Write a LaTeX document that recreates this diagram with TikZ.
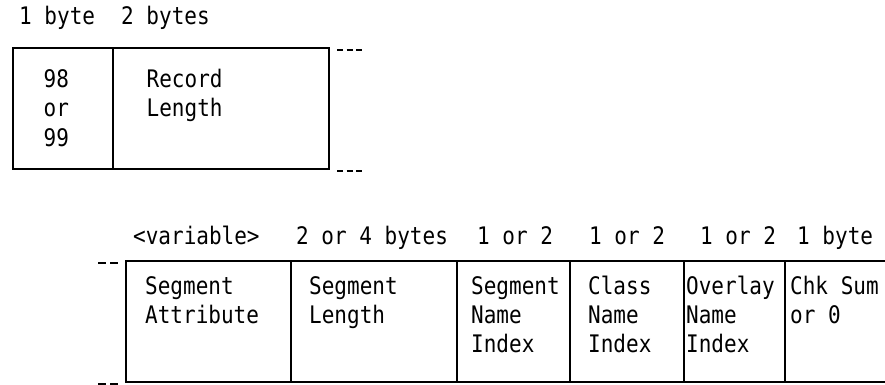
\documentclass[tikz,border=0pt]{standalone}
\usepackage{fontspec}
\usepackage{graphicx}
\setmonofont{DejaVu Sans Mono}
\newcommand{\tallt}[1]{\scalebox{1}[1.15]{#1}}
\begin{document}
\begin{tikzpicture}[x=1pt,y=-1pt,
  lbl/.style={anchor=base west, inner sep=0pt, font=\ttfamily\fontsize{21}{29}\selectfont},
  cellbox/.style={draw, line width=1.2pt, inner sep=0pt, outer sep=0pt},
  shortdash/.style={line width=1.2pt, dash pattern=on 6pt off 3.5pt},
  leftdash/.style={line width=1.2pt, dash pattern=on 8pt off 4pt}]
\useasboundingbox (0,0) rectangle (885,385);

% ---- top record ----
\node[lbl] (h1) at (19,25) {\tallt{1 byte}};
\node[lbl] (h2) at (121,25) {\tallt{2 bytes}};

\node[cellbox, minimum width=100pt, minimum height=121pt] (ta) at (63,108.5) {};
\node[cellbox, minimum width=216pt, minimum height=121pt] (tb) at (221,108.5) {};

\node[lbl] (t98) at (43.5,88) {\tallt{98}};
\node[lbl] (tor) at (43.5,117) {\tallt{or}};
\node[lbl] (t99) at (43.5,146) {\tallt{99}};
\node[lbl] (trec) at (146.5,88) {\tallt{Record}};
\node[lbl] (tlen) at (146.5,117) {\tallt{Length}};

\coordinate (d1a) at (337,50);  \coordinate (d1b) at (363,50);
\coordinate (d2a) at (337,171); \coordinate (d2b) at (363,171);
\draw[shortdash] (d1a) -- (d1b);
\draw[shortdash] (d2a) -- (d2b);

% ---- bottom record ----
\node[lbl] (g1) at (133,244) {\tallt{<variable>}};
\node[lbl] (g2) at (296,244) {\tallt{2 or 4 bytes}};
\node[lbl] (g3) at (477,244) {\tallt{1 or 2}};
\node[lbl] (g4) at (589,244) {\tallt{1 or 2}};
\node[lbl] (g5) at (700,244) {\tallt{1 or 2}};
\node[lbl] (g6) at (797,244) {\tallt{1 byte}};

\node[cellbox, minimum width=165pt, minimum height=121pt] (ba) at (208.5,321.5) {};
\node[cellbox, minimum width=166pt, minimum height=121pt] (bb) at (374,321.5) {};
\node[cellbox, minimum width=113pt, minimum height=121pt] (bc) at (513.5,321.5) {};
\node[cellbox, minimum width=114pt, minimum height=121pt] (bd) at (627,321.5) {};
\node[cellbox, minimum width=101pt, minimum height=121pt] (be) at (734.5,321.5) {};
\coordinate (bfr) at (886,261);
\coordinate (bfs) at (886,382);
\draw[line width=1.2pt] (be.north east) -- (bfr);
\draw[line width=1.2pt] (be.south east) -- (bfs);

\node[lbl] (a1) at (145,294) {\tallt{Segment}};
\node[lbl] (a2) at (145,323) {\tallt{Attribute}};
\node[lbl] (l1) at (309,294) {\tallt{Segment}};
\node[lbl] (l2) at (309,323) {\tallt{Length}};
\node[lbl] (n1) at (471,294) {\tallt{Segment}};
\node[lbl] (n2) at (471,323) {\tallt{Name}};
\node[lbl] (n3) at (471,352) {\tallt{Index}};
\node[lbl] (c1) at (588,294) {\tallt{Class}};
\node[lbl] (c2) at (588,323) {\tallt{Name}};
\node[lbl] (c3) at (588,352) {\tallt{Index}};
\node[lbl] (o1) at (686,294) {\tallt{Overlay}};
\node[lbl] (o2) at (686,323) {\tallt{Name}};
\node[lbl] (o3) at (686,352) {\tallt{Index}};
\node[lbl] (k1) at (790,294) {\tallt{Chk Sum}};
\node[lbl] (k2) at (790,323) {\tallt{or 0}};

\coordinate (d3a) at (98,263); \coordinate (d3b) at (118,263);
\coordinate (d4a) at (98,384); \coordinate (d4b) at (118,384);
\draw[leftdash] (d3a) -- (d3b);
\draw[leftdash] (d4a) -- (d4b);
\end{tikzpicture}
\end{document}
